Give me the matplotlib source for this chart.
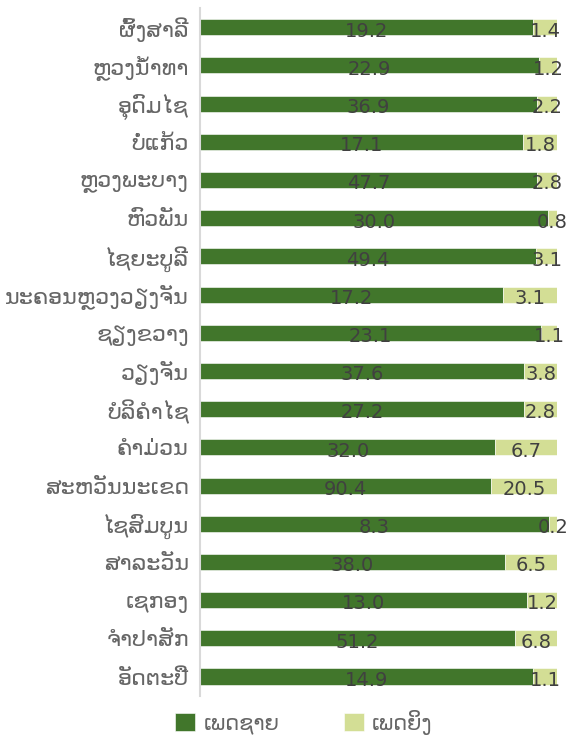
import matplotlib.pyplot as plt
import numpy as np

# Provinces, top to bottom, and the two series (male / female)
provinces = ['ຜົ້ງສາລີ', 'ຫຼວງນ້ຳທາ', 'ອຸດົມໄຊ', 'ບໍ່ແກ້ວ', 'ຫຼວງພະບາງ', 'ຫົວພັນ',
             'ໄຊຍະບູລີ', 'ນະຄອນຫຼວງວຽງຈັນ', 'ຊຽງຂວາງ', 'ວຽງຈັນ', 'ບໍລິຄຳໄຊ',
             'ຄຳມ່ວນ', 'ສະຫວັນນະເຂດ', 'ໄຊສົມບູນ', 'ສາລະວັນ', 'ເຊກອງ', 'ຈຳປາສັກ', 'ອັດຕະປື']
male = [19.2, 22.9, 36.9, 17.1, 47.7, 30.0, 49.4, 17.2, 23.1, 37.6, 27.2,
        32.0, 90.4, 8.3, 38.0, 13.0, 51.2, 14.9]
female = [1.4, 1.2, 2.2, 1.8, 2.8, 0.8, 3.1, 3.1, 1.1, 3.8, 2.8,
          6.7, 20.5, 0.2, 6.5, 1.2, 6.8, 1.1]
series_names = ['ເພດຊາຍ', 'ເພດຍິງ']

green = '#41762B'
light = '#D3DE95'
txt = '#404040'

m = np.array(male)
f = np.array(female)
tot = m + f
m_share = m / tot
f_share = f / tot
y = np.arange(len(provinces))

plt.rcParams['font.family'] = ['DejaVu Sans']

fig = plt.figure(figsize=(5.68, 7.4), dpi=100)
ax = fig.add_axes([0.352, 0.06, 0.629, 0.929])

h = 0.42
b1 = ax.barh(y, m_share, height=h, color=green, edgecolor='white', linewidth=0.4, label=series_names[0])
b2 = ax.barh(y, f_share, left=m_share, height=h, color=light, edgecolor='white', linewidth=0.4, label=series_names[1])

# value labels centred in each segment
for i in range(len(y)):
    ax.text(m_share[i] / 2, y[i] + 0.1, '%.1f' % male[i], ha='center', va='center',
            fontsize=14, color=txt)
    ax.text(m_share[i] + f_share[i] / 2, y[i] + 0.1, '%.1f' % female[i], ha='center',
            va='center', fontsize=14, color=txt)

ax.set_xlim(0, 1)
ax.set_ylim(len(y) - 0.5, -0.5)
ax.set_yticks(y)
ax.set_yticklabels(provinces, fontsize=16, color='#666666')
ax.tick_params(axis='y', length=0, pad=8)
ax.set_xticks([])
for s in ['top', 'right', 'bottom']:
    ax.spines[s].set_visible(False)
ax.spines['left'].set_color('#D9D9D9')
ax.spines['left'].set_linewidth(1.5)

fig.legend(handles=[b1, b2], loc='lower center', bbox_to_anchor=(0.535, -0.018), ncol=2,
           frameon=False, fontsize=15, handlelength=0.95, handleheight=0.95,
           columnspacing=3.1, handletextpad=0.4, labelcolor='#666666')

plt.savefig('out.png', dpi=100)
